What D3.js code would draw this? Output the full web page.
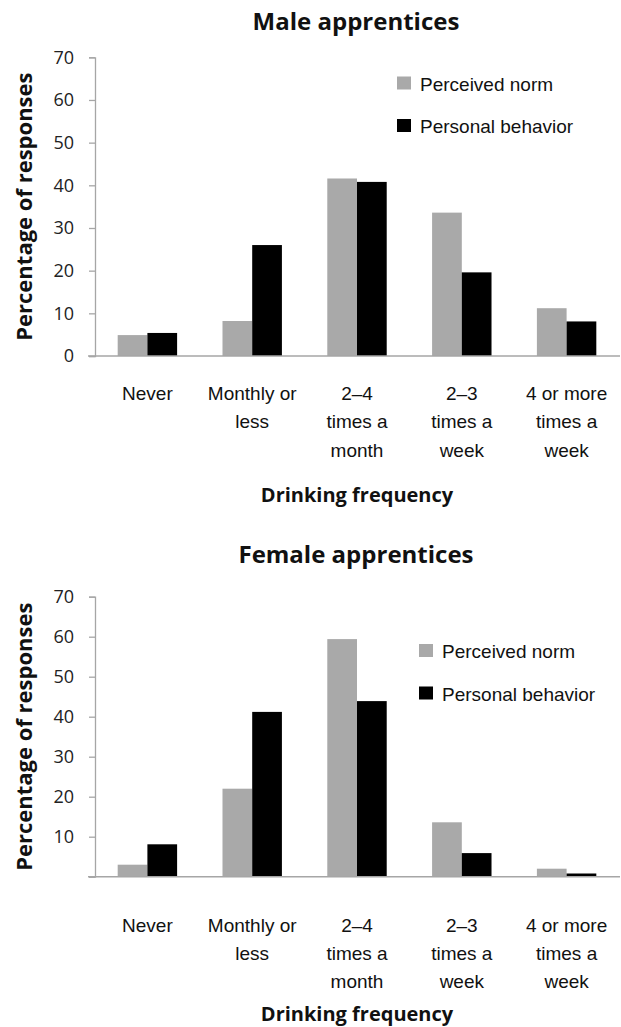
<!DOCTYPE html>
<html>
<head>
<meta charset="utf-8">
<script src="https://cdn.jsdelivr.net/npm/d3@7"></script>
<style>
  html, body { margin: 0; padding: 0; background: #fff; }
  svg { display: block; }
</style>
</head>
<body>
<svg id="chart" width="621" height="1027"></svg>
<script>
// ---- Data ----
const categories = ["Never", "Monthly or\nless", "2–4\ntimes a\nmonth", "2–3\ntimes a\nweek", "4 or more\ntimes a\nweek"];
const seriesNames = ["Perceived norm", "Personal behavior"];
const maleNorm = [4.9, 8.2, 41.6, 33.6, 11.2];
const maleBehavior = [5.4, 26.0, 40.8, 19.6, 8.1];
const femaleNorm = [3.0, 22.0, 59.4, 13.6, 2.0];
const femaleBehavior = [8.1, 41.2, 43.9, 5.9, 0.8];
const yTicks = [0, 10, 20, 30, 40, 50, 60, 70];
const maleTickLabels = ["0", "10", "20", "30", "40", "50", "60", "70"];
const femaleTickLabels = ["", "10", "20", "30", "40", "50", "60", "70"];
const colors = ["#a9a9a9", "#000000"];

const svg = d3.select("#chart");
const axisColor = "#a6a6a6";

function drawPanel(cfg) {
  const g = svg.append("g");
  const x = d3.scaleBand().domain(categories).range([95, 619]).paddingInner(0.433).paddingOuter(0.2165);
  const xs = d3.scaleBand().domain(seriesNames).range([0, x.bandwidth()]);
  const y = d3.scaleLinear().domain([0, 70]).range([cfg.y0, cfg.y70]);

  // title
  g.append("text").attr("x", 356).attr("y", cfg.titleY)
    .attr("text-anchor", "middle")
    .attr("font-family", "'Open Sans', sans-serif").attr("font-weight", "bold")
    .attr("font-size", 24).attr("fill", "#111")
    .text(cfg.title);

  // bars
  const data = categories.map((c, i) => ({ c, vals: [cfg.norm[i], cfg.beh[i]] }));
  const grp = g.selectAll(".grp").data(data).join("g")
    .attr("transform", d => `translate(${x(d.c)},0)`);
  grp.selectAll("rect").data(d => d.vals.map((v, k) => ({ v, k })))
    .join("rect")
    .attr("x", d => xs(seriesNames[d.k]))
    .attr("width", xs.bandwidth())
    .attr("y", d => y(d.v))
    .attr("height", d => y(0) - y(d.v))
    .attr("fill", d => colors[d.k]);

  // y axis
  const yAxis = d3.axisLeft(y).tickValues(yTicks).tickSize(6).tickPadding(15)
    .tickFormat((d, i) => cfg.tickLabels[i]);
  const ya = g.append("g").attr("transform", "translate(95,0)").call(yAxis);
  ya.select(".domain").attr("stroke", axisColor).attr("stroke-width", 1.3);
  ya.selectAll(".tick line").attr("stroke", axisColor).attr("stroke-width", 1.3);
  ya.selectAll(".tick text").attr("font-family", "'Open Sans', sans-serif")
    .attr("font-size", 18).attr("fill", "#222");

  // x axis line
  g.append("line").attr("x1", 88).attr("x2", 620)
    .attr("y1", y(0)).attr("y2", y(0))
    .attr("stroke", axisColor).attr("stroke-width", 1.6);

  // x labels
  const xl = g.selectAll(".xl").data(categories).join("text")
    .attr("text-anchor", "middle")
    .attr("font-family", "'Liberation Sans', Arial, sans-serif")
    .attr("font-size", 19).attr("fill", "#111")
    .attr("transform", d => `translate(${x(d) + x.bandwidth() / 2},${cfg.xLabelY})`);
  xl.selectAll("tspan").data(d => d.split("\n")).join("tspan")
    .attr("x", 0).attr("y", (d, i) => i * 28.3).text(d => d);

  // x axis title
  g.append("text").attr("x", 357).attr("y", cfg.xTitleY)
    .attr("text-anchor", "middle")
    .attr("font-family", "'Open Sans', sans-serif").attr("font-weight", "bold")
    .attr("font-size", 20).attr("fill", "#111")
    .text("Drinking frequency");

  // y axis title
  g.append("text")
    .attr("transform", `translate(32,${(cfg.y0 + cfg.y70) / 2}) rotate(-90)`)
    .attr("text-anchor", "middle")
    .attr("font-family", "'Open Sans', sans-serif").attr("font-weight", "bold")
    .attr("font-size", 22).attr("fill", "#111")
    .text("Percentage of responses");

  // legend
  const lg = g.selectAll(".lg").data(seriesNames).join("g")
    .attr("transform", (d, i) => `translate(${cfg.legX},${cfg.legY + i * 42.5})`);
  lg.append("rect").attr("x", 0).attr("y", -14).attr("width", 14).attr("height", 13)
    .attr("fill", (d, i) => colors[i]);
  lg.append("text").attr("x", 23).attr("y", 0)
    .attr("font-family", "'Liberation Sans', Arial, sans-serif")
    .attr("font-size", 19).attr("fill", "#111").text(d => d);
}

drawPanel({
  title: "Male apprentices", titleY: 30,
  norm: maleNorm, beh: maleBehavior, tickLabels: maleTickLabels,
  y0: 356, y70: 57.3, xLabelY: 400, xTitleY: 502,
  legX: 397, legY: 90.5
});
drawPanel({
  title: "Female apprentices", titleY: 563,
  norm: femaleNorm, beh: femaleBehavior, tickLabels: femaleTickLabels,
  y0: 876.7, y70: 596.7, xLabelY: 931.7, xTitleY: 1021,
  legX: 419, legY: 658
});
</script>
</body>
</html>
